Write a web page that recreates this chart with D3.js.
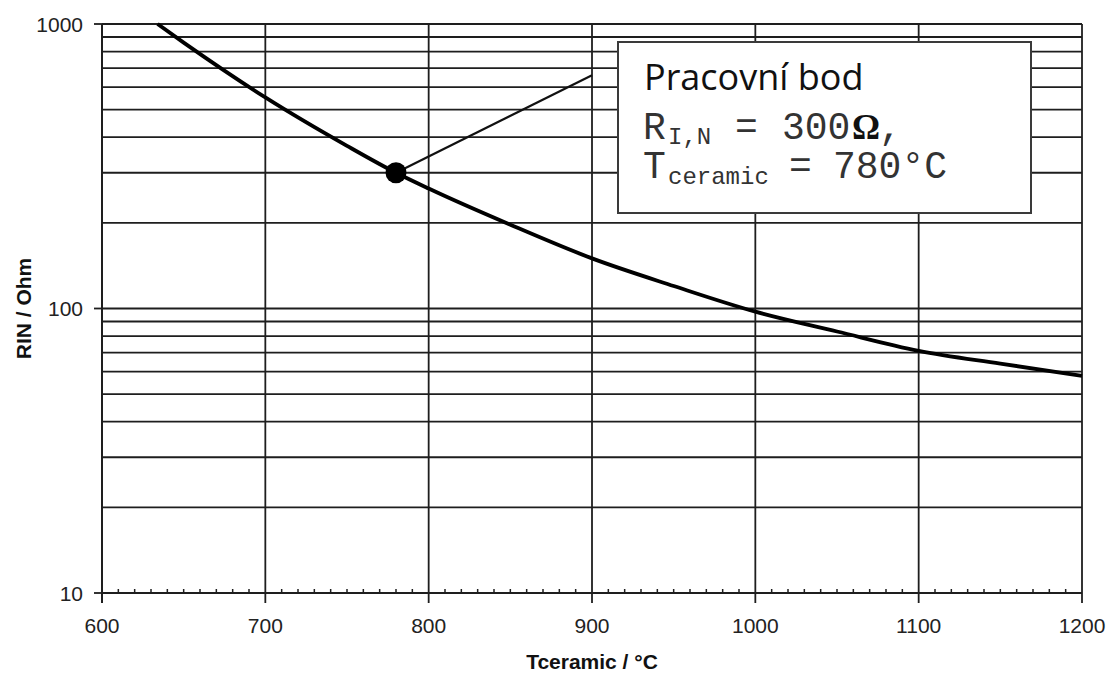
<!DOCTYPE html>
<html>
<head>
<meta charset="utf-8">
<script src="https://cdn.jsdelivr.net/npm/d3@7"></script>
<style>
  html, body { margin: 0; padding: 0; background: #fff; }
  svg { display: block; }
</style>
</head>
<body>
<svg id="chart" width="1109" height="673"></svg>
<script>
// Ceramic temperature vs. internal resistance of the sensor element
const tempC  = [634, 650, 700, 750, 780, 800, 850, 900, 950, 1000, 1050, 1100, 1150, 1200];
const rinOhm = [1000, 860, 552, 373, 300, 264, 197, 150, 120, 97.5, 83, 71, 64, 58];

// Operating point and the end of its leader line
const workPoint = { t: 780, r: 300 };
const leaderEnd = { t: 900, r: 660 };

const xTickValues = [600, 700, 800, 900, 1000, 1100, 1200];
const xMinorValues = d3.range(600, 1201, 10);
const yLabelValues = [10, 100, 1000];
const yGridValues = [20, 30, 40, 50, 60, 70, 80, 90, 100, 200, 300, 400, 500, 600, 700, 800, 900, 1000];

const xTitle = "Tceramic / °C";
const yTitle = "RIN / Ohm";

const W = 1109, H = 673;
const margin = { top: 24, right: 27, bottom: 80, left: 102 };
const iw = W - margin.left - margin.right;
const ih = H - margin.top - margin.bottom;

const svg = d3.select("#chart");
const g = svg.append("g").attr("transform", `translate(${margin.left},${margin.top})`);

const x = d3.scaleLinear().domain([600, 1200]).range([0, iw]);
const y = d3.scaleLog().domain([10, 1000]).range([ih, 0]);

const gridColor = "#1e1e1e";
const labelFont = "'Liberation Sans', Arial, sans-serif";

// horizontal grid
g.append("g").selectAll("line").data(yGridValues).join("line")
  .attr("x1", 0).attr("x2", iw)
  .attr("y1", d => y(d)).attr("y2", d => y(d))
  .attr("stroke", gridColor).attr("stroke-width", 1.8);

// vertical grid (extends below the axis as major ticks)
g.append("g").selectAll("line").data(xTickValues).join("line")
  .attr("x1", d => x(d)).attr("x2", d => x(d))
  .attr("y1", 0).attr("y2", ih + 10)
  .attr("stroke", gridColor).attr("stroke-width", 1.8);

// bottom axis line with minor ticks pointing inward
g.append("line").attr("x1", 0).attr("x2", iw).attr("y1", ih).attr("y2", ih)
  .attr("stroke", gridColor).attr("stroke-width", 1.9);
g.append("g").selectAll("line").data(xMinorValues.filter(v => v % 100 !== 0)).join("line")
  .attr("x1", d => x(d)).attr("x2", d => x(d))
  .attr("y1", ih).attr("y2", ih - 4)
  .attr("stroke", gridColor).attr("stroke-width", 1.5);

// left axis line with major ticks
g.append("line").attr("x1", 0).attr("x2", 0).attr("y1", 0).attr("y2", ih + 10)
  .attr("stroke", gridColor).attr("stroke-width", 1.9);
g.append("g").selectAll("line").data(yLabelValues).join("line")
  .attr("x1", -8).attr("x2", 0)
  .attr("y1", d => y(d)).attr("y2", d => y(d))
  .attr("stroke", gridColor).attr("stroke-width", 1.8);

// tick labels
g.append("g").selectAll("text").data(xTickValues).join("text")
  .attr("x", d => x(d)).attr("y", ih + 40)
  .attr("text-anchor", "middle")
  .attr("font-family", labelFont).attr("font-size", 21).attr("fill", "#222")
  .text(d => d);
g.append("g").selectAll("text").data(yLabelValues).join("text")
  .attr("x", -19).attr("y", d => y(d))
  .attr("dy", "0.36em")
  .attr("text-anchor", "end")
  .attr("font-family", labelFont).attr("font-size", 21).attr("fill", "#222")
  .text(d => d);

// axis titles
svg.append("text")
  .attr("x", 592).attr("y", 669)
  .attr("text-anchor", "middle")
  .attr("font-family", labelFont).attr("font-size", 21).attr("font-weight", "bold").attr("fill", "#111")
  .text(xTitle);
svg.append("text")
  .attr("transform", `translate(31,${margin.top + y(100)}) rotate(-90)`)
  .attr("text-anchor", "middle")
  .attr("font-family", labelFont).attr("font-size", 21).attr("font-weight", "bold").attr("fill", "#111")
  .text(yTitle);

// resistance curve
const line = d3.line()
  .x((d, i) => x(tempC[i]))
  .y(d => y(d))
  .curve(d3.curveMonotoneX);
g.append("path").datum(rinOhm)
  .attr("d", line)
  .attr("fill", "none").attr("stroke", "#000").attr("stroke-width", 3.8)
  .attr("stroke-linejoin", "round");

// leader line from the operating point
g.append("line")
  .attr("x1", x(workPoint.t)).attr("y1", y(workPoint.r))
  .attr("x2", x(leaderEnd.t)).attr("y2", y(leaderEnd.r))
  .attr("stroke", "#111").attr("stroke-width", 2.2);

// operating point marker
g.append("circle")
  .attr("cx", x(workPoint.t)).attr("cy", y(workPoint.r))
  .attr("r", 10.5).attr("fill", "#000");

// annotation box
const box = svg.append("g");
box.append("rect")
  .attr("x", 618).attr("y", 42).attr("width", 413).attr("height", 171)
  .attr("fill", "#fff").attr("stroke", "#3a3a3a").attr("stroke-width", 2);

box.append("text")
  .attr("x", 644).attr("y", 90)
  .attr("font-family", "'Open Sans', sans-serif").attr("font-size", 36).attr("fill", "#111")
  .text("Pracovní bod");

const mono = "'Liberation Mono', 'Courier New', monospace";
const monoColor = "#333";

const l2 = box.append("text").attr("font-family", mono).attr("fill", monoColor);
l2.append("tspan").attr("x", 643).attr("y", 139).attr("font-size", 38).text("R");
l2.append("tspan").attr("x", 668).attr("y", 144).attr("font-size", 24).text("I,N");
l2.append("tspan").attr("x", 735).attr("y", 139).attr("font-size", 38).text("=");
l2.append("tspan").attr("x", 782).attr("y", 139).attr("font-size", 38).text("300");
l2.append("tspan").attr("x", 852).attr("y", 139).attr("font-size", 35)
  .attr("font-family", "'Liberation Serif', serif").attr("font-weight", "bold").attr("fill", "#111").text("Ω");
l2.append("tspan").attr("x", 879).attr("y", 139).attr("font-size", 38).text(",");

const l3 = box.append("text").attr("font-family", mono).attr("fill", monoColor);
l3.append("tspan").attr("x", 643).attr("y", 178).attr("font-size", 38).text("T");
l3.append("tspan").attr("x", 668).attr("y", 184).attr("font-size", 24).text("ceramic");
l3.append("tspan").attr("x", 789).attr("y", 178).attr("font-size", 38).text("=");
l3.append("tspan").attr("x", 833).attr("y", 178).attr("font-size", 38).text("780°C");
</script>
</body>
</html>
